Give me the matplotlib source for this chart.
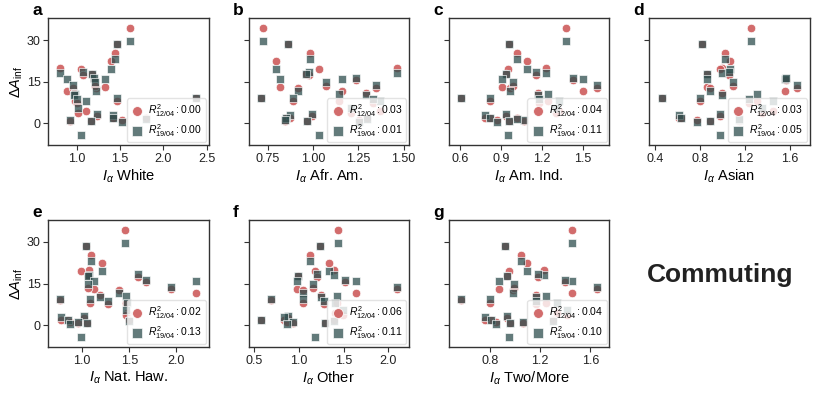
import matplotlib
matplotlib.use("Agg")
import matplotlib.pyplot as plt
import numpy as np

plt.rcParams['font.family'] = ['Liberation Sans', 'DejaVu Sans']
plt.rcParams['mathtext.fontset'] = 'custom'
plt.rcParams['mathtext.rm'] = 'Liberation Sans'
plt.rcParams['mathtext.it'] = 'Liberation Sans:italic'
plt.rcParams['mathtext.bf'] = 'Liberation Sans:bold'

# delta A_inf per area, two dates (shared by every panel)
dA_1204 = [34.3, 28.7, 25.2, 22.4, 20.0, 19.5, 17.5, 17.7, 13.2, 12.6, 9.2, 8.1, 8.1, 11.7,
           15.6, 12.9, 10.8, 4.5, 3.7, 2.5, 1.0, 1.9, 2.1, 1.0, 1.2, 2.1, 7.5, 13.5]
dA_1904 = [29.5, 28.7, 23.0, 19.4, 18.0, -4.3, 18.6, 17.7, 15.8, 11.7, 9.3, 9.3, 10.6, 16.0,
           16.4, 13.8, 10.2, 8.1, 5.5, 3.5, 1.0, 3.1, 2.1, 1.2, 0.5, 1.7, 8.8, 15.0]

# segregation index I_alpha per group
I_white = [1.61, 1.47, 1.446, 1.40, 0.815, 1.055, 1.07, 1.173, 1.327, 1.22, 2.377, 1.46, 0.985, 0.89,
           1.20, 0.96, 0.975, 1.108, 1.02, 1.23, 1.17, 1.42, 1.42, 0.92, 1.52, 1.80, 1.00, 1.21]
I_afram = [0.722, 0.862, 0.984, 0.797, 1.462, 1.035, 0.98, 0.96, 0.819, 0.919, 0.712, 0.89, 1.143, 1.162,
           1.237, 1.349, 1.293, 1.368, 1.21, 0.993, 0.965, 0.872, 0.853, 0.847, 1.256, 1.30, 1.33, 1.072]
I_amind = [1.376, 0.956, 1.015, 1.088, 1.23, 0.949, 1.156, 0.937, 0.907, 0.968, 0.607, 0.82, 1.247, 1.498,
           1.425, 1.603, 1.17, 1.322, 1.30, 0.937, 0.961, 0.778, 0.815, 1.064, 0.868, 1.015, 1.18, 0.99]
I_asian = [1.255, 0.819, 1.025, 1.065, 1.0, 0.975, 1.06, 0.866, 0.866, 0.892, 0.459, 0.798, 1.305, 1.56,
           1.567, 1.668, 1.0, 1.45, 1.35, 0.975, 0.886, 0.615, 0.636, 1.145, 0.774, 1.145, 1.24, 1.093]
I_nathaw = [1.459, 1.036, 1.089, 1.206, 1.07, 0.99, 1.587, 1.064, 1.12, 1.395, 0.769, 1.08, 1.465, 2.21,
            1.68, 1.943, 1.19, 1.47, 1.46, 1.018, 1.046, 0.78, 0.85, 0.957, 0.875, 1.50, 1.278, 1.06]
I_other = [1.44, 1.235, 1.13, 1.34, 1.39, 1.18, 1.205, 0.995, 0.978, 1.05, 0.694, 1.05, 1.43, 1.634,
           1.52, 2.093, 1.25, 1.40, 1.49, 0.88, 1.29, 0.83, 0.575, 0.93, 0.87, 1.39, 1.28, 1.16]
I_twomore = [1.454, 0.919, 1.044, 1.097, 1.232, 0.951, 1.184, 0.938, 0.869, 0.98, 0.57, 0.80, 1.245, 1.454,
             1.396, 1.653, 1.163, 1.33, 1.415, 0.932, 0.959, 0.76, 0.81, 1.06, 0.848, 1.30, 1.166, 0.993]

groups = ['White', 'Afr. Am.', 'Am. Ind.', 'Asian', 'Nat. Haw.', 'Other', 'Two/More']
panel_letters = ['a', 'b', 'c', 'd', 'e', 'f', 'g']
r2_1204 = ['0.00', '0.03', '0.04', '0.03', '0.02', '0.06', '0.04']
r2_1904 = ['0.00', '0.01', '0.11', '0.05', '0.13', '0.11', '0.10']
xticks = [[1.0, 1.5, 2.0, 2.5], [0.75, 1.00, 1.25, 1.50], [0.6, 0.9, 1.2, 1.5], [0.4, 0.8, 1.2, 1.6],
          [1.0, 1.5, 2.0], [0.5, 1.0, 1.5, 2.0], [0.8, 1.2, 1.6]]
xtick_fmt = ['%.1f', '%.2f', '%.1f', '%.1f', '%.1f', '%.1f', '%.1f']
yticks = [0, 15, 30]

x_all = [I_white, I_afram, I_amind, I_asian, I_nathaw, I_other, I_twomore]

red = '#CD5C5C'
slate = '#2F4F4F'
frame = '#333333'

fig, axes = plt.subplots(2, 4, figsize=(8.17, 3.93), dpi=100, sharey=True)
fig.subplots_adjust(left=0.059, right=0.991, top=0.954, bottom=0.117, wspace=0.25, hspace=0.59)
axes = axes.ravel()

for i, ax in enumerate(axes[:7]):
    x = np.array(x_all[i])
    ax.scatter(x, dA_1204, s=38, marker='o', color=red, alpha=0.9, edgecolor='white', linewidth=0.6,
               label=r'$R^2_{12/04}: %s$' % r2_1204[i], zorder=2)
    ax.scatter(x, dA_1904, s=38, marker='s', color=slate, alpha=0.75, edgecolor='white', linewidth=0.6,
               label=r'$R^2_{19/04}: %s$' % r2_1904[i], zorder=3)
    ax.margins(x=0.09)
    ax.set_xticks(xticks[i])
    ax.set_xticklabels([xtick_fmt[i] % t for t in xticks[i]])
    ax.set_yticks(yticks)
    ax.set_ylim(-7.8, 37.9)
    ax.set_xlabel(r'$I_\alpha$ ' + groups[i], fontsize=10.5, labelpad=2)
    ax.tick_params(direction='out', length=3.5, width=0.8, colors=frame, labelsize=9, pad=2)
    ax.tick_params(labelcolor='#222222')
    for sp in ax.spines.values():
        sp.set_color(frame)
        sp.set_linewidth(1.0)
    leg = ax.legend(loc='lower right', fontsize=7.5, framealpha=0.8, borderpad=0.35,
                    handletextpad=0.4, labelspacing=0.3, handlelength=1.3, markerscale=1.15,
                    borderaxespad=0.25)
    leg.get_frame().set_edgecolor('#dddddd')
    ax.text(-0.1, 1.0, panel_letters[i], transform=ax.transAxes, fontsize=12.5,
            fontweight='bold', ha='left', va='bottom')
    if i % 4 == 0:
        ax.set_ylabel(r'$\Delta A_{\mathrm{inf}}$', fontsize=10.5, labelpad=1)

axes[7].axis('off')
axes[7].text(0.44, 0.57, 'Commuting', transform=axes[7].transAxes, fontsize=19,
             fontweight='bold', ha='center', va='center', color='#222222')

fig.savefig('out.png', dpi=100)
